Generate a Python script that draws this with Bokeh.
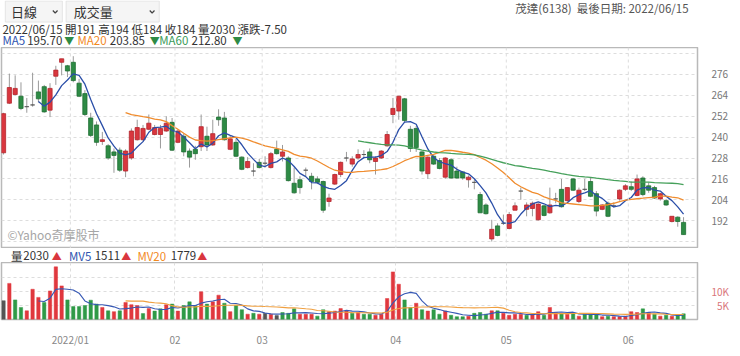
import numpy as np
import pandas as pd
from bokeh.plotting import figure
from bokeh.layouts import column
from bokeh.models import Range1d, FixedTicker, Span, Label
from bokeh.embed import file_html
from bokeh.resources import INLINE
from bokeh.core.properties import value

# ---------------- data ----------------
STOCK = "茂達(6138)"
HOLIDAYS = ["2021-12-31", "2022-01-27", "2022-01-28", "2022-01-31", "2022-02-01",
            "2022-02-02", "2022-02-03", "2022-02-04", "2022-02-28", "2022-04-04",
            "2022-04-05", "2022-05-02", "2022-06-03"]

opens = [231, 259.5, 264.5, 263.5, 257.5, 258.5, 266, 269, 255.5, 275,
         283, 281, 283, 271, 265, 251, 247, 237.5, 235, 231.5,
         232.5, 220.5, 228, 238.5, 238.5, 244.5, 241.5, 241.5, 243.5, 248.5,
         237, 240.5, 232, 233, 234.5, 240.5, 235.5, 251.5, 251, 233,
         237, 228.5, 222.5, 220.5, 225.5, 225, 222.5, 233, 229, 228,
         213.5, 215.5, 221, 217.5, 216, 214.5, 203, 213, 218.5, 228,
         224.5, 228, 230, 231.5, 226, 228, 235, 253, 255, 262,
         244.5, 245, 231.5, 219, 229, 226.5, 217, 227, 220.5, 220,
         215.5, 214, 207, 201, 181.5, 189, 190.5, 187.5, 198, 209,
         198.5, 199, 192.5, 200.5, 196.5, 204.5, 210, 203.5, 216, 203,
         210, 214.5, 207.5, 198.5, 202, 200.5, 204.5, 210, 211.5, 206.5,
         216.5, 212, 211, 204.5, 203.5, 191.5, 194, 191]

highs = [254, 276.5, 275.5, 271.5, 262.5, 277, 272.5, 270, 271, 281,
         285, 281.5, 286.5, 273.5, 267, 254, 249, 243, 236, 233.5,
         234, 233, 245, 250, 247, 253, 247, 247, 252, 251,
         244.5, 242, 233.5, 235, 253, 246, 250, 256, 254.5, 241,
         239, 229, 228.5, 225, 227.5, 229, 231.5, 238, 235.5, 229,
         222.5, 217.5, 222.5, 219.5, 217.5, 215, 207.5, 219, 226, 231.5,
         229, 233, 232.5, 233.5, 229, 232.5, 243.5, 262.5, 263.5, 262.5,
         246.5, 246.5, 232, 229, 230, 228, 228.5, 228, 223, 220.5,
         218, 215.5, 208.5, 202, 192.5, 190.5, 195.5, 197, 202.5, 211,
         202.5, 203, 202, 201, 211, 208, 216, 211, 216.5, 211,
         216, 217, 209, 201.5, 203, 202.5, 210, 213, 214.5, 218.5,
         217.5, 214, 212, 208, 204.5, 194.5, 194.5, 194]

lows = [230, 259, 264, 255.5, 254, 257.5, 260, 254, 251.5, 270,
        275.5, 274.5, 271.5, 263, 252, 240, 235, 235.5, 227, 219.5,
        220, 217, 227, 238, 238, 244, 241, 233.5, 243, 232,
        236.5, 229, 222.5, 227, 232, 232, 235, 246.5, 238, 232.5,
        228.5, 221, 222, 217.5, 222, 222.5, 222, 230, 226, 214.5,
        207.5, 207.5, 217.5, 210, 213, 196.5, 200, 212.5, 217, 226,
        223, 227, 228, 225, 218.5, 227.5, 234.5, 248, 250, 248.5,
        231.5, 231.5, 218.5, 216, 224, 221.5, 216, 216, 216, 215.5,
        211, 210, 196.5, 195.5, 180, 183, 189.5, 187, 198, 204,
        194.5, 194.5, 192, 194.5, 196, 202, 199.5, 203, 209, 202,
        209, 205.5, 194.5, 198, 194, 199.5, 203.5, 209, 209, 206,
        206, 208, 204.5, 203.5, 200.5, 191, 188.5, 184]

closes = [253.5, 268.5, 268, 256.5, 257.5, 258.5, 262, 254.5, 268, 278.5,
          285, 278, 272.5, 263.5, 253, 241, 237, 238.5, 228, 229.5,
          221, 232, 243.5, 245.5, 245, 248, 245.5, 245, 248, 232.5,
          243.5, 231.5, 228.5, 230.5, 246, 235.5, 242, 250, 238.5, 239,
          229, 221.5, 226, 220.5, 222.5, 225, 230.5, 230.5, 231.5, 215,
          208, 211, 221, 214.5, 214, 198, 205, 218.5, 225.5, 228,
          227.5, 230, 230, 227, 228, 232, 241.5, 256.5, 263.5, 249.5,
          233.5, 234, 220.5, 228.5, 224.5, 222, 228, 216.5, 216.5, 216.5,
          217, 214, 196.5, 196, 187, 183.5, 190.5, 195.5, 200.5, 209,
          201, 202, 201.5, 195, 201, 204.5, 200, 211, 209.5, 209.5,
          210, 206, 197.5, 201, 194.5, 200.5, 209.5, 212, 210, 216,
          207, 209.5, 205, 207.5, 201, 194.5, 191.5, 184]

volumes = [6700, 12900, 7000, 4300, 3100, 10800, 7900, 6100, 10200, 18800,
           12000, 7000, 4600, 4600, 5000, 6900, 5500, 4300, 3100, 2800,
           3100, 6100, 5300, 5000, 2100, 3900, 3000, 3800, 5300, 5500,
           3000, 5000, 6300, 5000, 9900, 5500, 6300, 8700, 5800, 2800,
           5000, 3500, 1900, 2200, 1900, 2200, 1900, 1400, 2500, 2200,
           3800, 1900, 1900, 1900, 1200, 3500, 2800, 3000, 3900, 3100,
           2200, 2500, 1900, 1900, 1500, 1900, 7500, 17000, 12600, 7000,
           4300, 5800, 3500, 3000, 3500, 1900, 3000, 1500, 1000, 1000,
           1200, 2200, 2500, 1900, 3100, 3100, 2200, 1500, 1900, 1900,
           1500, 1900, 2800, 1500, 4300, 2500, 2200, 1900, 2200, 1200,
           1900, 1900, 1900, 1000, 1200, 1000, 1000, 1200, 2800, 2500,
           3800, 2500, 1900, 1200, 1500, 1200, 1600, 2030]

# colour of each volume bar: u = up (red), d = down (green), n = neutral
vol_dir = ("nudduuuduu" "uddddddudu" "duuududdud" "uddduduudu" "ddudunundd" "duuudduuuu"
           "dudduuuuud" "dududduddd" "uddduduuuu" "duuduududu" "ddduduuuuu" "dudududd")

PRICE_TICKS = [180, 192, 204, 216, 228, 240, 252, 264, 276, 288]
PRICE_HIDDEN = [180, 288]
VOL_TICKS = [5000, 10000, 15000]
VOL_TICK_LABELS = ["\u20075K", "10K", ""]
MA_PERIODS = [5, 20, 60]
MA_SHOWN = [195.70, 203.85, 212.80]
MV_PERIODS = [5, 20]
MV_SHOWN = [1511, 1779]

# ---------------- derived ----------------
N = len(closes)
xs = np.arange(N)
dates = [d for d in pd.bdate_range("2021-12-15", "2022-06-15") if d.strftime("%Y-%m-%d") not in HOLIDAYS]
dates = dates[-N:]

month_ticks, month_labels = [], []
for i in range(1, N):
    if dates[i].month != dates[i - 1].month:
        month_ticks.append(i - 0.5)
        month_labels.append(dates[i].strftime("%Y/%m") if dates[i].year != dates[i - 1].year
                            else dates[i].strftime("%m"))

o = np.array(opens, float); h = np.array(highs, float)
l = np.array(lows, float); c = np.array(closes, float)
v = np.array(volumes, float)


def moving(arr, n):
    m = pd.Series(arr).rolling(n).mean()
    m.iloc[:n + 1] = np.nan
    return m.to_numpy()


RED, GREEN, GRAY = "#d9363e", "#2e8b45", "#555555"
RED_L, GREEN_L = "#b3262c", "#1f6e33"
body_fill = [RED if cc > oo else GREEN if cc < oo else GRAY for oo, cc in zip(o, c)]
body_line = [RED_L if cc > oo else GREEN_L if cc < oo else GRAY for oo, cc in zip(o, c)]
VRED, VGREEN = "#e0383e", "#2f9a47"
vol_col = [VRED if d == "u" else VGREEN if d == "d" else GRAY for d in vol_dir]

FONT = value("Noto Sans CJK TC")
MA_COLORS = ["#2a4ea8", "#f08c2e", "#45a05a"]
MA_LABEL_COLORS = ["#2f54b0", "#f28a1f", "#3c9b5a"]
MV_COLORS = ["#3658b4", "#f0a040"]
GRID = "#dddddd"
OUTLINE = "#b9b9b9"
TXT = "11.5px"

XR = Range1d(-0.35, N + 1.4)
FW = 696


def put(fig, x, y, s, color="#333333", size=TXT, align="left"):
    fig.text(x=[x], y=[y], text=[s], text_color=color, text_font=FONT,
             text_font_size=size, text_align=align, text_baseline="middle")


def strip(height):
    f = figure(width=724, height=height, x_range=Range1d(0, 724), y_range=Range1d(height, 0),
               x_axis_type=None, y_axis_type=None, toolbar_location=None,
               output_backend="svg", min_border=0, outline_line_color=None)
    return f


# ---------------- header ----------------
hdr = strip(47)
hdr.quad(left=[4, 68], right=[64, 166], top=[0.5, 0.5], bottom=[21.5, 21.5],
         fill_color="#f5f5f5", line_color="#e4e4e4")
put(hdr, 10, 11, "日線", size="13px")
put(hdr, 76, 11, "成交量", size="13px")
hdr.multi_line(xs=[[54, 56.5, 59], [156, 158.5, 161]], ys=[[10, 12.5, 10], [10, 12.5, 10]],
               line_color="#444444", line_width=1.2)

chg = c[-1] - c[-2]
row1 = (f"{dates[-1]:%Y/%m/%d} 開{o[-1]:g} 高{h[-1]:g} 低{l[-1]:g} 收{c[-1]:g} "
        f"量{volumes[-1]} 漲跌{chg:.2f}")
put(hdr, 1, 28, row1)

ma_lines = [moving(c, n) for n in MA_PERIODS]
name_x = [1, 80, 166]
val_x = [27, 114, 200]
arr_x = [66, 156, 243]
for k, n in enumerate(MA_PERIODS):
    put(hdr, name_x[k], 39.5, f"MA{n}", color=MA_LABEL_COLORS[k])
    put(hdr, val_x[k], 39.5, f"{MA_SHOWN[k]:.2f}")
    down = ma_lines[k][-1] < ma_lines[k][-2]
    put(hdr, arr_x[k], 39.5, "▼" if down else "▲", color=GREEN if down else RED, size="10px")

put(hdr, 723, 7.5, f"最後日期: {dates[-1]:%Y/%m/%d}", color="#555555", align="right")
put(hdr, 600, 7.5, STOCK, color="#555555", align="right")

# ---------------- price panel ----------------
p = figure(frame_width=FW, frame_height=201, x_range=XR, y_range=Range1d(176, 291.5),
           x_axis_type=None, y_axis_location="right", toolbar_location=None,
           output_backend="svg", min_border_left=1, min_border_right=0,
           min_border_top=0, min_border_bottom=0,
           outline_line_color=OUTLINE, outline_line_width=1.5)
tk = FixedTicker(ticks=PRICE_TICKS)
p.yaxis.ticker = tk
p.ygrid.ticker = tk
p.yaxis.major_label_overrides = {t: "" for t in PRICE_HIDDEN}
p.yaxis.axis_line_color = None
p.yaxis.major_tick_line_color = None
p.yaxis.minor_tick_line_color = None
p.yaxis.major_label_standoff = 8
p.yaxis.major_label_text_font = "Noto Sans CJK TC"
p.yaxis.major_label_text_font_size = "10px"
p.yaxis.major_label_text_color = "#777777"
p.ygrid.grid_line_color = GRID
p.ygrid.grid_line_dash = "3 3"
for t in month_ticks:
    p.add_layout(Span(location=t, dimension="height", line_color=GRID,
                      line_dash="3 3", line_width=1))

p.segment(x0=xs, y0=l, x1=xs, y1=h, line_color="#9a9a9a", line_width=1)
p.vbar(x=xs, width=0.72, top=np.maximum(o, c), bottom=np.minimum(o, c),
       fill_color=body_fill, line_color=body_line, line_width=0.8)
for k in range(len(MA_PERIODS)):
    p.line(xs, ma_lines[k], line_color=MA_COLORS[k], line_width=1.3)

p.add_layout(Label(x=6, y=6, x_units="screen", y_units="screen", text="©Yahoo奇摩股市",
                   text_font="Noto Sans CJK TC", text_font_size="12px", text_color="#a6a6a6"))

# ---------------- volume legend strip ----------------
vleg = strip(14)
mv_lines = [moving(v, n) for n in MV_PERIODS]
put(vleg, 10, 7, "量")
put(vleg, 23, 7, f"{volumes[-1]}")
up = v[-1] >= v[-2]
put(vleg, 53, 7, "▲" if up else "▼", color=RED if up else GREEN, size="10px")
mv_name_x = [71, 143]
mv_val_x = [98, 178]
mv_arr_x = [126, 206]
for k, n in enumerate(MV_PERIODS):
    put(vleg, mv_name_x[k], 7, f"MV{n}", color=MA_LABEL_COLORS[k])
    put(vleg, mv_val_x[k], 7, f"{MV_SHOWN[k]}")
    up = mv_lines[k][-1] >= mv_lines[k][-2]
    put(vleg, mv_arr_x[k], 7, "▲" if up else "▼", color=RED if up else GREEN, size="10px")

# ---------------- volume panel ----------------
vf = figure(frame_width=FW, frame_height=57, x_range=XR, y_range=Range1d(0, 20360),
            y_axis_location="right", toolbar_location=None, output_backend="svg",
            min_border_left=1, min_border_right=0, min_border_top=0, min_border_bottom=0,
            outline_line_color=OUTLINE, outline_line_width=1.5)
vt = FixedTicker(ticks=VOL_TICKS)
vf.yaxis.ticker = vt
vf.ygrid.ticker = vt
vf.yaxis.major_label_overrides = dict(zip(VOL_TICKS, VOL_TICK_LABELS))
mt = FixedTicker(ticks=month_ticks)
vf.xaxis.ticker = mt
vf.xgrid.ticker = mt
vf.xaxis.major_label_overrides = dict(zip(month_ticks, month_labels))
vf.xaxis.major_label_text_align = "left"
for ax in (vf.xaxis, vf.yaxis):
    ax.axis_line_color = None
    ax.major_tick_line_color = None
    ax.minor_tick_line_color = None
    ax.major_label_text_font = "Noto Sans CJK TC"
    ax.major_label_text_font_size = "10px"
vf.yaxis.major_label_standoff = 8
vf.xaxis.major_label_standoff = 6
vf.yaxis.major_label_text_color = "#d9757a"
vf.xaxis.major_label_text_color = "#888888"
for g in (vf.xgrid, vf.ygrid):
    g.grid_line_color = GRID
    g.grid_line_dash = "3 3"

vf.vbar(x=xs, width=0.58, top=v, bottom=0, fill_color=vol_col, line_color=vol_col, line_width=0.5)
for k in range(len(MV_PERIODS)):
    vf.line(xs, mv_lines[k], line_color=MV_COLORS[k], line_width=1.1)

layout = column(hdr, p, vleg, vf, spacing=0)
open("out.html", "w").write(file_html(layout, INLINE))
